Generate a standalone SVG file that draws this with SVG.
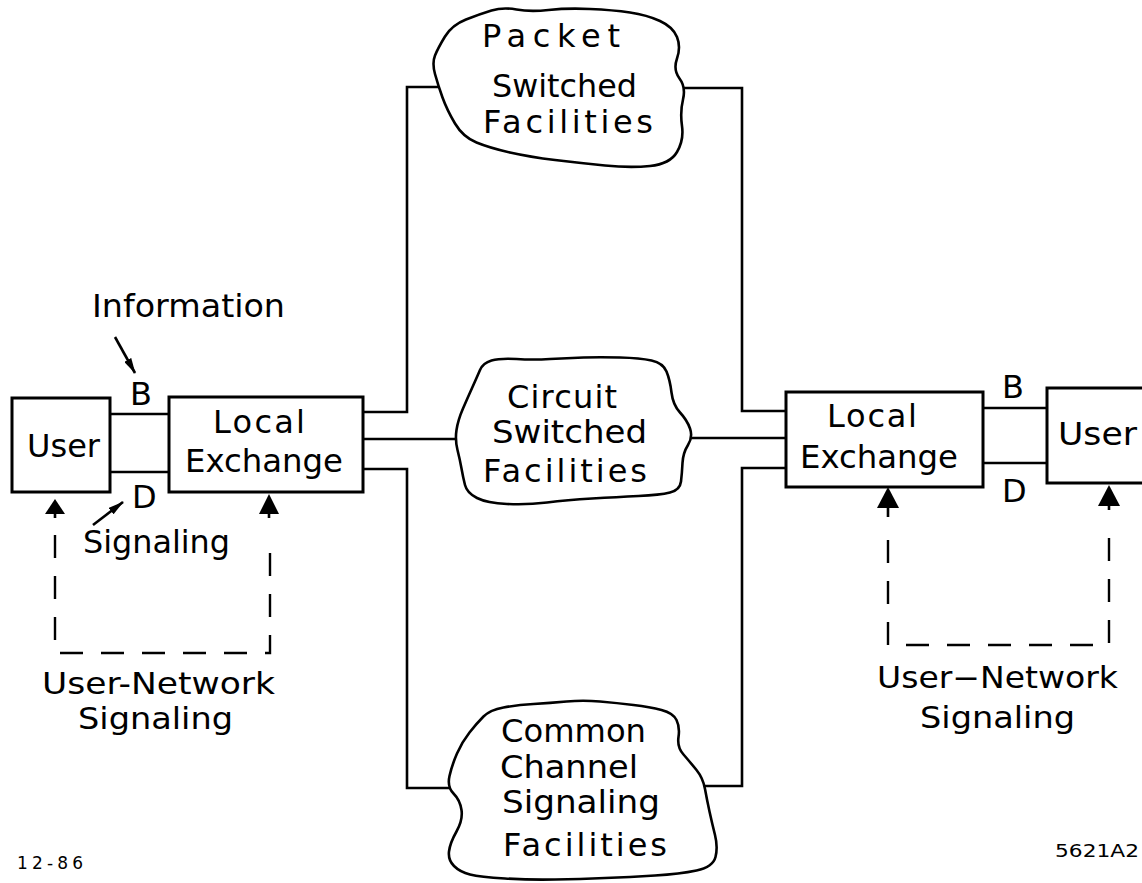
<svg xmlns="http://www.w3.org/2000/svg" width="1142" height="883" viewBox="0 0 1142 883">
<defs>
<style>
.box{fill:#fff;stroke:#000;stroke-width:3}
.cloud{fill:#fff;stroke:#000;stroke-width:2.6;stroke-linejoin:round}
.ln{fill:none;stroke:#000;stroke-width:2.6}
.dash{fill:none;stroke:#000;stroke-width:2.4;stroke-dasharray:23 18}
.ar{fill:#000}
.t{font-family:"DejaVu Sans","Liberation Sans",sans-serif;font-size:32px;fill:#000}
.u{font-family:"DejaVu Sans","Liberation Sans",sans-serif;font-size:30px;fill:#000}
.s{font-family:"DejaVu Sans","Liberation Sans",sans-serif;font-size:17px;fill:#000}
</style>
<marker id="ah" viewBox="0 0 16 8" refX="15" refY="4" markerWidth="16" markerHeight="8" markerUnits="userSpaceOnUse" orient="auto">
<path d="M0,0 L16,4 L0,8 Z" fill="#000"/>
</marker>
</defs>

<g id="connectors">
<path class="ln" d="M110 414 H169 M110 472 H169"/>
<path class="ln" d="M983 408 H1047 M983 463 H1047"/>
<path class="ln" d="M363 412 H407 V87 H439"/>
<path class="ln" d="M363 439 H457"/>
<path class="ln" d="M363 469 H407 V788 H449"/>
<path class="ln" d="M786 411 H742 V88 H683"/>
<path class="ln" d="M691 438 H786"/>
<path class="ln" d="M786 468 H742 V786 H705"/>
<path class="dash" d="M55 535 V653 H270 V535"/>
<path class="ln" d="M55 513 V518 M269 513 V518"/>
<path class="dash" d="M888 540 V645 H1109 V533"/>
<path class="ln" d="M888 507 V517 M1109 505 V510"/>
<polygon class="ar" points="55,499 45,514 65,514"/>
<polygon class="ar" points="269,494 259,514 279,514"/>
<polygon class="ar" points="888,487 877,508 899,508"/>
<polygon class="ar" points="1109,485 1098,506 1120,506"/>
<line class="ln" x1="115" y1="337" x2="135" y2="373" marker-end="url(#ah)" stroke-width="2.2"/>
<line class="ln" x1="93" y1="525" x2="123" y2="502" marker-end="url(#ah)" stroke-width="2.2"/>
</g>

<g id="user-left">
<rect class="box" x="12" y="398" width="98" height="94"/>
<text class="t" x="27" y="457" textLength="73" lengthAdjust="spacingAndGlyphs">User</text>
</g>

<g id="exchange-left">
<rect class="box" x="169" y="397" width="194" height="95"/>
<text class="t" x="213" y="433" textLength="92" lengthAdjust="spacing">Local</text>
<text class="t" x="185" y="472" textLength="158" lengthAdjust="spacingAndGlyphs">Exchange</text>
</g>

<g id="exchange-right">
<rect class="box" x="786" y="392" width="197" height="95"/>
<text class="t" x="827" y="427" textLength="90" lengthAdjust="spacing">Local</text>
<text class="t" x="800" y="468" textLength="158" lengthAdjust="spacingAndGlyphs">Exchange</text>
</g>

<g id="user-right">
<rect class="box" x="1047" y="388" width="100" height="95"/>
<text class="t" x="1058" y="445" textLength="79" lengthAdjust="spacingAndGlyphs">User</text>
</g>

<g id="packet">
<path class="cloud" d="M445 36.5 Q452 25 466 19.5 Q480 14 491.5 10.5 Q503 7 516.5 9.5 Q530 12 548.5 10 Q567 8 590 9 Q613 10 630 12.5 Q647 15 660 21 Q673 27 677 37 Q681 47 677 58.5 Q673 70 679.5 78.5 Q686 87 683 99.5 Q680 112 682 126 Q684 140 677 152 Q670 164 650 166 Q630 168 605 165.5 Q580 163 555 160 Q530 157 510 152.5 Q490 148 476.5 142.5 Q463 137 455 123.5 Q447 110 442.5 97.5 Q438 85 435 74 Q432 63 435 55.5 Q438 48 445 36.5 Z"/>
<text class="t" x="482" y="47" textLength="138" lengthAdjust="spacing">Packet</text>
<text class="t" x="492" y="97" textLength="145" lengthAdjust="spacingAndGlyphs">Switched</text>
<text class="t" x="483" y="133" textLength="170" lengthAdjust="spacing">Facilities</text>
</g>

<g id="circuit">
<path class="cloud" d="M480 370 Q483 363 491.5 360.5 Q500 358 516.5 359 Q533 360 550 359 Q567 358 583.5 357.5 Q600 357 620 357.5 Q640 358 651.5 360.5 Q663 363 666.5 371.5 Q670 380 671.5 392.5 Q673 405 680 412.5 Q687 420 690 428.5 Q693 437 688 445 Q683 453 682.5 463 Q682 473 681 481.5 Q680 490 670 492.5 Q660 495 638.5 496 Q617 497 592 498.5 Q567 500 547 502.5 Q527 505 507 504 Q487 503 477 498 Q467 493 465 485 Q463 477 461.5 468.5 Q460 460 457.5 450 Q455 440 456.5 430 Q458 420 463 408.5 Q468 397 472.5 387 Q477 377 480 370 Z"/>
<text class="t" x="507" y="408" textLength="110" lengthAdjust="spacing">Circuit</text>
<text class="t" x="492" y="443" textLength="155" lengthAdjust="spacingAndGlyphs">Switched</text>
<text class="t" x="483" y="482" textLength="164" lengthAdjust="spacing">Facilities</text>
</g>

<g id="common">
<path class="cloud" d="M469.5 732.5 Q477 723 483.5 716.5 Q490 710 503.5 707.5 Q517 705 533.5 704 Q550 703 566.5 701.5 Q583 700 600 701.5 Q617 703 633.5 705 Q650 707 661.5 710 Q673 713 676.5 720 Q680 727 678.5 737 Q677 747 683.5 754.5 Q690 762 696.5 770 Q703 778 705 789 Q707 800 709.5 811.5 Q712 823 715 835 Q718 847 715.5 857 Q713 867 696.5 870.5 Q680 874 655 875.5 Q630 877 605 878 Q580 879 555 879.5 Q530 880 505 878.5 Q480 877 470 874.5 Q460 872 454 866 Q448 860 449 851.5 Q450 843 456.5 831.5 Q463 820 461.5 810 Q460 800 453.5 793.5 Q447 787 449.5 776 Q452 765 457 753.5 Q462 742 469.5 732.5 Z"/>
<text class="t" x="501" y="742" textLength="145" lengthAdjust="spacingAndGlyphs">Common</text>
<text class="t" x="500" y="778" textLength="138" lengthAdjust="spacingAndGlyphs">Channel</text>
<text class="t" x="502" y="813" textLength="158" lengthAdjust="spacingAndGlyphs">Signaling</text>
<text class="t" x="503" y="856" textLength="164" lengthAdjust="spacing">Facilities</text>
</g>

<g id="labels">
<text class="t" x="92" y="317" textLength="193" lengthAdjust="spacingAndGlyphs">Information</text>
<text class="t" x="130" y="405">B</text>
<text class="t" x="132" y="508">D</text>
<text class="t" x="83" y="553" textLength="147" lengthAdjust="spacingAndGlyphs">Signaling</text>
<text class="t" x="1002" y="398">B</text>
<text class="t" x="1002" y="502">D</text>
<text class="u" x="42" y="694" textLength="233" lengthAdjust="spacingAndGlyphs">User-Network</text>
<text class="u" x="78" y="729" textLength="155" lengthAdjust="spacingAndGlyphs">Signaling</text>
<text class="u" x="877" y="688" textLength="241" lengthAdjust="spacingAndGlyphs">User−Network</text>
<text class="u" x="920" y="728" textLength="155" lengthAdjust="spacingAndGlyphs">Signaling</text>
<text class="s" x="17" y="869" textLength="66" lengthAdjust="spacing">12-86</text>
<text class="s" x="1055" y="857" textLength="84" lengthAdjust="spacingAndGlyphs">5621A2</text>
</g>
</svg>
